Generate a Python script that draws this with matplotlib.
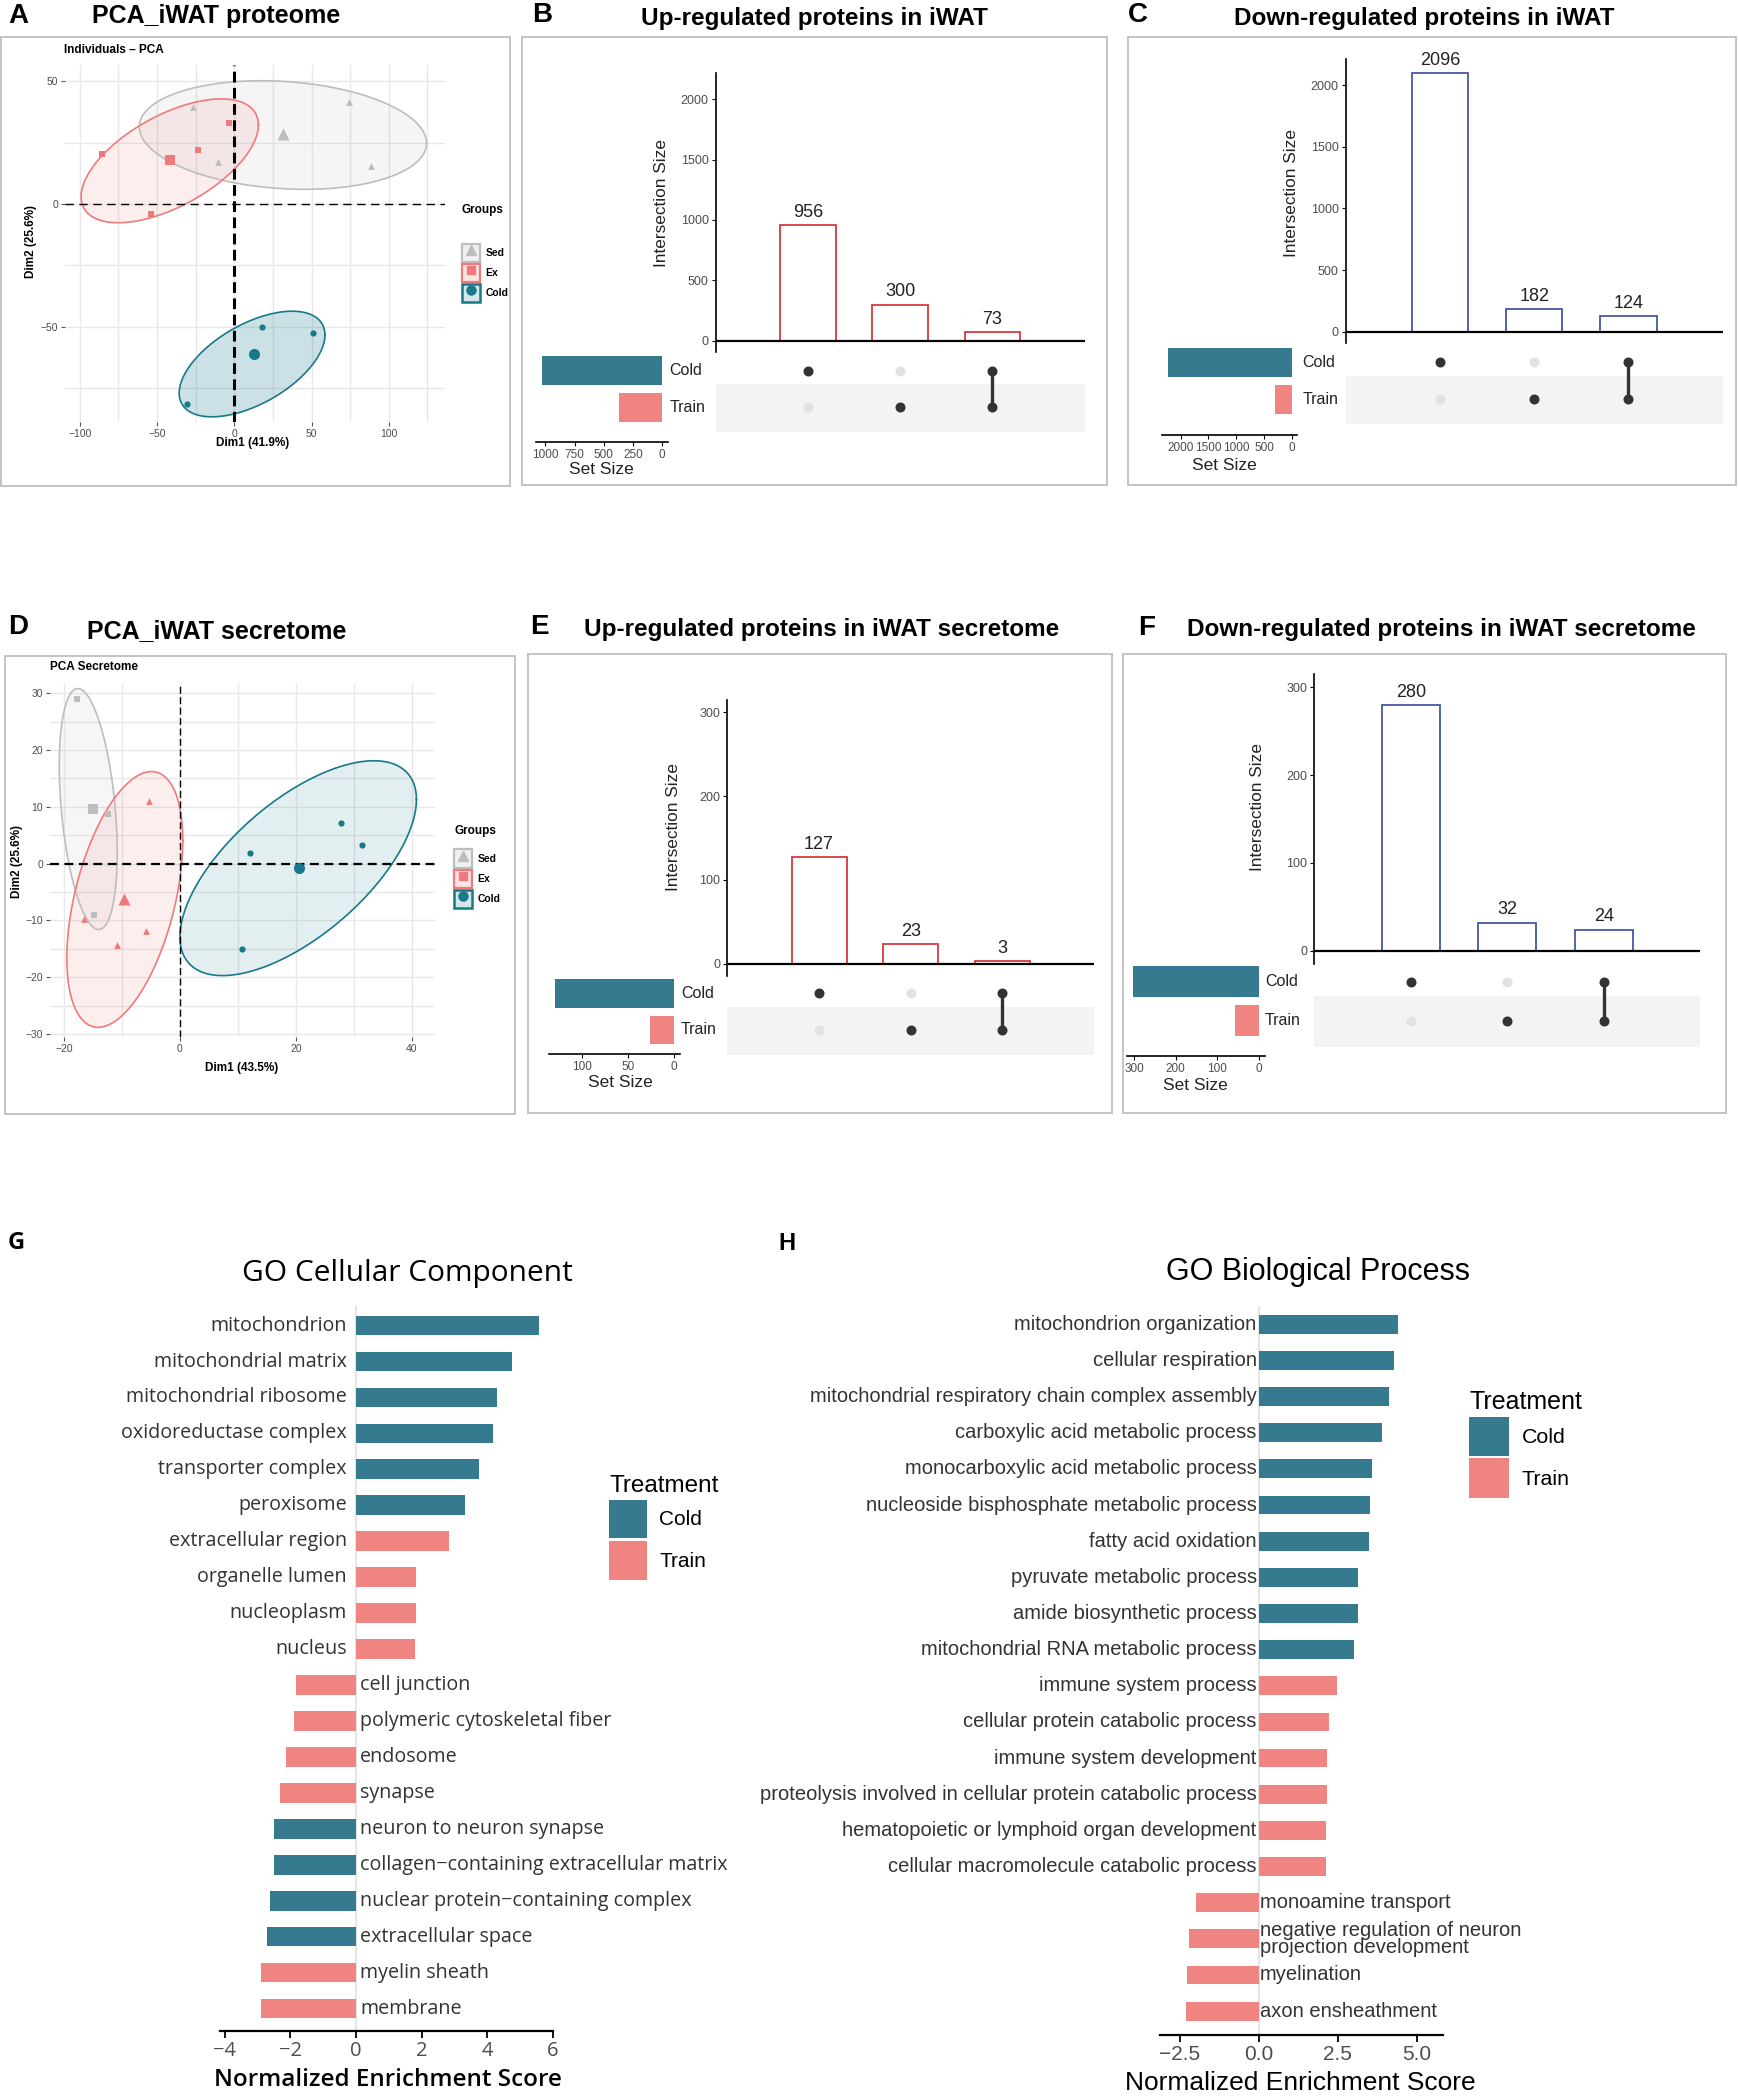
import numpy as np
import matplotlib
matplotlib.use("Agg")
import matplotlib.pyplot as plt
from matplotlib.patches import Rectangle, Patch
from matplotlib.lines import Line2D
from matplotlib.legend_handler import HandlerTuple

# ---------------- data ----------------
# A  PCA iWAT proteome (Dim1, Dim2)
pa_sed_x = [-26.9, 74.4, 88.3, -10.4]
pa_sed_y = [39.4, 41.7, 15.6, 17.2]
pa_ex_x = [-85.8, -23.3, -3.2, -54.1]
pa_ex_y = [20.4, 21.9, 32.9, -4.2]
pa_cold_x = [17.7, 51.1, -30.4]
pa_cold_y = [-50.0, -52.3, -81.2]
# ellipses: centre x, centre y, half width, half height, tilt
pa_sed_ell = [31.5, 28.1, 93.0, 22.1, -0.15]
pa_ex_ell = [-41.8, 17.6, 57.4, 25.2, 0.58]
pa_cold_ell = [11.5, -65.1, 47.2, 21.5, 0.55]

# D  PCA iWAT secretome
pd_sed_x = [-17.8, -12.4, -14.8]
pd_sed_y = [29.0, 8.7, -9.0]
pd_ex_x = [-5.4, -16.5, -10.8, -5.9]
pd_ex_y = [11.1, -9.8, -14.3, -11.9]
pd_cold_x = [12.1, 27.8, 31.4, 10.8]
pd_cold_y = [1.9, 7.1, 3.3, -15.1]
pd_sed_ell = [-15.8, 9.6, 5.0, 21.2, -0.36]
pd_ex_ell = [-9.5, -6.3, 10.0, 22.5, 0.46]
pd_cold_ell = [20.4, -0.8, 20.4, 18.9, 0.64]

# B, C, E, F  upset intersections
sets = ["Cold", "Train"]
combos = [["Cold"], ["Train"], ["Cold", "Train"]]
up_iwat = [956, 300, 73]
down_iwat = [2096, 182, 124]
up_sec = [127, 23, 3]
down_sec = [280, 32, 24]

# G  GO cellular component
cc_terms = ["mitochondrion", "mitochondrial matrix", "mitochondrial ribosome",
            "oxidoreductase complex", "transporter complex", "peroxisome",
            "extracellular region", "organelle lumen", "nucleoplasm", "nucleus",
            "cell junction", "polymeric cytoskeletal fiber", "endosome", "synapse",
            "neuron to neuron synapse", "collagen\u2212containing extracellular matrix",
            "nuclear protein\u2212containing complex", "extracellular space",
            "myelin sheath", "membrane"]
cc_nes = [5.56, 4.76, 4.30, 4.17, 3.73, 3.32, 2.82, 1.84, 1.84, 1.80,
          -1.84, -1.89, -2.13, -2.32, -2.50, -2.51, -2.61, -2.73, -2.89, -2.89]
cc_grp = ["Cold"] * 6 + ["Train"] * 8 + ["Cold"] * 4 + ["Train"] * 2

# H  GO biological process
bp_terms = ["mitochondrion organization", "cellular respiration",
            "mitochondrial respiratory chain complex assembly",
            "carboxylic acid metabolic process", "monocarboxylic acid metabolic process",
            "nucleoside bisphosphate metabolic process", "fatty acid oxidation",
            "pyruvate metabolic process", "amide biosynthetic process",
            "mitochondrial RNA metabolic process", "immune system process",
            "cellular protein catabolic process", "immune system development",
            "proteolysis involved in cellular protein catabolic process",
            "hematopoietic or lymphoid organ development",
            "cellular macromolecule catabolic process", "monoamine transport",
            "negative regulation of neuron\nprojection development", "myelination",
            "axon ensheathment"]
bp_nes = [4.42, 4.28, 4.12, 3.90, 3.60, 3.54, 3.48, 3.16, 3.16, 3.02,
          2.48, 2.24, 2.16, 2.16, 2.14, 2.14, -2.00, -2.20, -2.26, -2.30]
bp_grp = ["Cold"] * 10 + ["Train"] * 10

# ---------------- style ----------------
teal = "#357A8F"
coral = "#F08480"
sed_c = "#BDBDBD"
ex_c = "#F07A7B"
cold_c = "#17798A"

W, H = 1738, 2100
plt.rcParams['font.family'] = ['Liberation Sans', 'DejaVu Sans']
fig = plt.figure(figsize=(W / 100, H / 100), dpi=100)


def px_axes(x0, y0, x1, y1):
    return fig.add_axes([x0 / W, 1 - y1 / H, (x1 - x0) / W, (y1 - y0) / H])


def ftext(x, y, s, **kw):
    return fig.text(x / W, 1 - y / H, s, **kw)


def frame(x0, y0, x1, y1):
    fig.add_artist(Rectangle((x0 / W, 1 - y1 / H), (x1 - x0) / W, (y1 - y0) / H,
                             transform=fig.transFigure, fill=False, ec="#C4C4C4", lw=1.4))


def ellipse_xy(p):
    cx, cy, a, b, rho = p
    t = np.linspace(0, 2 * np.pi, 240)
    return cx + a * np.cos(t), cy + b * (rho * np.cos(t) + np.sqrt(1 - rho ** 2) * np.sin(t))


def pca_panel(box, xlim, ylim, xmaj, xmin, ymaj, ymin, groups, vline, hline):
    ax = px_axes(*box)
    ax.set_xlim(*xlim)
    ax.set_ylim(*ylim)
    for s in ax.spines.values():
        s.set_visible(False)
    ax.set_xticks(xmaj)
    ax.set_xticks(xmin, minor=True)
    ax.set_yticks(ymaj)
    ax.set_yticks(ymin, minor=True)
    ax.grid(which="both", color="#E8E8E8", lw=1.0)
    ax.set_axisbelow(True)
    ax.tick_params(which="major", length=3, color="#555555", labelsize=7.5,
                   labelcolor="#4D4D4D", pad=2)
    ax.tick_params(which="minor", length=0)
    for xs, ys, ell, col, fa, mk in groups:
        ex, ey = ellipse_xy(ell)
        ax.fill(ex, ey, color=col, alpha=fa, lw=0, zorder=1)
        ax.plot(ex, ey, color=col, lw=1.2, zorder=2)
    ax.axvline(0, color="black", lw=vline[0], ls=(0, vline[1]), zorder=3)
    ax.axhline(0, color="black", lw=hline[0], ls=(0, hline[1]), zorder=3)
    for xs, ys, ell, col, fa, mk in groups:
        small = {"^": 24, "s": 16, "o": 20}[mk]
        ax.scatter(xs, ys, marker=mk, s=small, color=col, lw=0, zorder=4)
        ax.scatter(np.mean(xs), np.mean(ys), marker=mk, s=small * 3.2, color=col, lw=0, zorder=4)
    return ax


def pca_legend(x, y, sep):
    hs = [(Patch(facecolor="#F0F0F0", edgecolor=sed_c, lw=1.6),
           Line2D([], [], marker="^", color=sed_c, ls="", markersize=7)),
          (Patch(facecolor="#FCE4E4", edgecolor=ex_c, lw=1.6),
           Line2D([], [], marker="s", color=ex_c, ls="", markersize=6)),
          (Patch(facecolor="#D4E6EA", edgecolor=cold_c, lw=1.8),
           Line2D([], [], marker="o", color=cold_c, ls="", markersize=6.5))]
    lg = fig.legend(hs, ["Sed", "Ex", "Cold"], handler_map={tuple: HandlerTuple(ndivide=1)},
                    loc="upper left", bbox_to_anchor=(x / W, 1 - y / H), frameon=False,
                    title="Groups", alignment="left", borderpad=0, borderaxespad=0,
                    handlelength=1.75, handleheight=2.3, labelspacing=0.2, handletextpad=0.5,
                    prop={"size": 7.5, "weight": "bold"},
                    title_fontproperties={"size": 8.5, "weight": "bold"})
    lg._legend_box.sep = sep


# ---------------- A ----------------
frame(1, 37, 510, 486)
ftext(8, 16, "A", size=20, weight="bold", va="center")
ftext(216, 16, "PCA_iWAT proteome", size=18, weight="bold", ha="center", va="center")
pca_panel((65, 65, 445, 422), (-109.6, 136.4), (-88.7, 56.6),
          [-100, -50, 0, 50, 100], [-75, -25, 25, 75, 125], [-50, 0, 50], [-75, -25, 25],
          [(pa_sed_x, pa_sed_y, pa_sed_ell, sed_c, 0.15, "^"),
           (pa_ex_x, pa_ex_y, pa_ex_ell, ex_c, 0.12, "s"),
           (pa_cold_x, pa_cold_y, pa_cold_ell, cold_c, 0.22, "o")],
          (2.2, (3.5, 1.8)), (1.0, (6, 4)))
ftext(64, 50, "Individuals \u2013 PCA", size=8.5, weight="bold", va="center")
ftext(253, 443, "Dim1 (41.9%)", size=8.5, weight="bold", ha="center", va="center")
ftext(31, 242, "Dim2 (25.6%)", size=8.5, weight="bold", ha="center", va="center", rotation=90)
pca_legend(462, 204, 20)

# ---------------- D ----------------
frame(5, 656, 515, 1114)
ftext(8, 627, "D", size=20, weight="bold", va="center")
ftext(217, 631, "PCA_iWAT secretome", size=18, weight="bold", ha="center", va="center")
pca_panel((50, 684, 435, 1037), (-22.4, 44.0), (-30.5, 31.6),
          [-20, 0, 20, 40], [-10, 10, 30], [-30, -20, -10, 0, 10, 20, 30],
          [-25, -15, -5, 5, 15, 25],
          [(pd_sed_x, pd_sed_y, pd_sed_ell, sed_c, 0.12, "s"),
           (pd_ex_x, pd_ex_y, pd_ex_ell, ex_c, 0.12, "^"),
           (pd_cold_x, pd_cold_y, pd_cold_ell, cold_c, 0.12, "o")],
          (1.0, (5, 2.5)), (1.6, (4, 2.5)))
ftext(50, 667, "PCA Secretome", size=8.5, weight="bold", va="center")
ftext(242, 1068, "Dim1 (43.5%)", size=8.5, weight="bold", ha="center", va="center")
ftext(17, 862, "Dim2 (25.6%)", size=8.5, weight="bold", ha="center", va="center", rotation=90)
pca_legend(454, 825, 9)


# ---------------- upset panels ----------------
def upset_panel(counts, edge, L):
    bx = px_axes(L["bx0"], L["btop"], L["bx1"], L["bbot"])
    xs = np.arange(len(counts))
    bx.bar(xs, counts, width=0.6, facecolor="white", edgecolor=edge, lw=1.3, zorder=2)
    bx.set_xlim(-1, 3)
    bx.set_ylim(*L["ylim"])
    bx.axhline(0, color="black", lw=1.6, zorder=3)
    for x, v in zip(xs, counts):
        bx.annotate(str(v), (x, v), xytext=(0, 3), textcoords="offset points",
                    ha="center", va="bottom", fontsize=13, color="#222222")
    for k in ["top", "right", "bottom"]:
        bx.spines[k].set_visible(False)
    bx.spines["left"].set_linewidth(1.2)
    bx.set_xticks([])
    bx.set_yticks(L["yticks"])
    bx.tick_params(axis="y", length=3, labelsize=9, labelcolor="#4D4D4D", pad=2)
    bx.patch.set_alpha(0)

    yc, yt = L["rows"]
    s = yt - yc
    row_y = {"Cold": 1, "Train": 0}
    mx = px_axes(L["bx0"], yc - 0.6 * s, L["bx1"], yt + 0.72 * s)
    mx.set_xlim(-1, 3)
    mx.set_ylim(-0.72, 1.6)
    mx.axis("off")
    mx.axhspan(-0.67, 0.63, color="#F3F3F3", lw=0, zorder=0)
    for i, combo in enumerate(combos):
        for nm in sets:
            on = nm in combo
            mx.scatter(i, row_y[nm], s=52, color="#333333" if on else "#E2E2E2", lw=0, zorder=3)
        if len(combo) > 1:
            mx.plot([i] * len(combo), [row_y[c] for c in combo], color="#333333", lw=2.4, zorder=2)

    sizes = [sum(v for v, c in zip(counts, combos) if nm in c) for nm in sets]
    sbot = -(L["sline"] - yt) / s
    sx = px_axes(L["sx0"], yc - 0.6 * s, L["sx1"], L["sline"])
    sx.barh([row_y[n] for n in sets], sizes, height=0.78, color=[teal, coral])
    sx.set_xlim(*L["sxlim"])
    sx.set_ylim(sbot, 1.6)
    for k in ["top", "right", "left"]:
        sx.spines[k].set_visible(False)
    sx.spines["bottom"].set_linewidth(1.2)
    sx.set_yticks([])
    sx.set_xticks(L["sticks"])
    sx.tick_params(axis="x", length=3, labelsize=8.5, labelcolor="#4D4D4D", pad=2)
    sx.patch.set_alpha(0)
    for nm in sets:
        ftext(L["labx"], yc if nm == "Cold" else yt, nm, size=11.5, va="center", color="#222222")
    ftext(L["ylab"][0], L["ylab"][1], "Intersection Size", size=12.4, rotation=90,
          ha="center", va="center", color="#222222")
    ftext(L["slab"][0], L["slab"][1], "Set Size", size=12.5, ha="center", va="center",
          color="#222222")
    ftext(L["title"][0], L["title"][1], L["title"][2], size=17.5, weight="bold",
          ha="center", va="center")
    ftext(L["letter"][0], L["letter"][1], L["letter"][2], size=20, weight="bold",
          ha="left", va="center")
    frame(*L["frame"])


upset_panel(up_iwat, "#D63A3F", dict(
    bx0=715.6, bx1=1084.6, btop=73.3, bbot=351.6, ylim=(-90, 2215),
    yticks=[0, 500, 1000, 1500, 2000], rows=(370.7, 407.3),
    sx0=536.3, sx1=667.9, sxlim=(1077, -48.8), sticks=[0, 250, 500, 750, 1000],
    sline=441.7, labx=669.4, ylab=(662, 203), slab=(601, 470),
    title=(814.5, 18, "Up-regulated proteins in iWAT"), letter=(532, 15, "B"),
    frame=(522, 37.3, 1107, 485)))

upset_panel(down_iwat, "#4556A5", dict(
    bx0=1345.7, bx1=1722.7, btop=58.6, bbot=342.8, ylim=(-90, 2215),
    yticks=[0, 500, 1000, 1500, 2000], rows=(362.3, 399.3),
    sx0=1162, sx1=1297, sxlim=(2334, -93), sticks=[0, 500, 1000, 1500, 2000],
    sline=435, labx=1302.7, ylab=(1291, 193), slab=(1224.6, 466),
    title=(1424, 18, "Down-regulated proteins in iWAT"), letter=(1128, 15, "C"),
    frame=(1128, 37.3, 1736, 485)))

upset_panel(up_sec, "#D63A3F", dict(
    bx0=727.3, bx1=1094.2, btop=699.8, bbot=976.3, ylim=(-15, 315),
    yticks=[0, 100, 200, 300], rows=(993.3, 1030),
    sx0=548.6, sx1=679.8, sxlim=(136.5, -6), sticks=[0, 50, 100],
    sline=1054, labx=681, ylab=(674, 826.7), slab=(620, 1082.3),
    title=(821.8, 629.3, "Up-regulated proteins in iWAT secretome"), letter=(530, 627, "E"),
    frame=(527.7, 654.3, 1112, 1113.3)))

upset_panel(down_sec, "#4556A5", dict(
    bx0=1314.3, bx1=1700.2, btop=674.2, bbot=963.9, ylim=(-15, 315),
    yticks=[0, 100, 200, 300], rows=(981.7, 1020.7),
    sx0=1127, sx1=1265, sxlim=(318, -15.7), sticks=[0, 100, 200, 300],
    sline=1056, labx=1265, ylab=(1258, 806.7), slab=(1194.9, 1086),
    title=(1441, 629.3, "Down-regulated proteins in iWAT secretome"), letter=(1138, 628, "F"),
    frame=(1123, 654.3, 1726, 1113.3)))


# ---------------- GO panels ----------------
def go_panel(box, xlim, ylim, terms, nes, grp, ticks, ticklabels, fam, lsize, tsize,
             off_pos, off_neg, bar_h):
    ax = px_axes(*box)
    y = np.arange(len(terms))
    cols = [teal if g == "Cold" else coral for g in grp]
    ax.barh(y, nes, height=bar_h, color=cols, zorder=2)
    ax.axvline(0, color="#E6E6E6", lw=1.6, zorder=1)
    ax.set_xlim(*xlim)
    ax.set_ylim(*ylim)
    for yi, t, v in zip(y, terms, nes):
        if v > 0:
            ax.annotate(t, (0, yi), xytext=(-off_pos, 0), textcoords="offset points",
                        ha="right", va="center", family=fam, size=lsize, color="#333333")
        else:
            ax.annotate(t, (0, yi), xytext=(off_neg, 0), textcoords="offset points",
                        ha="left", va="center", family=fam, size=lsize, color="#333333",
                        linespacing=0.9)
    for k in ["top", "right", "left"]:
        ax.spines[k].set_visible(False)
    ax.spines["bottom"].set_linewidth(1.6)
    ax.set_yticks([])
    ax.set_xticks(ticks)
    ax.set_xticklabels(ticklabels, family=fam, size=tsize, color="#4D4D4D")
    ax.tick_params(axis="x", length=5, width=1.3, pad=2)
    ax.patch.set_alpha(0)
    return ax


def go_legend(ax, x, y, tsize, lsize, hl, hh):
    hs = [Patch(facecolor=teal), Patch(facecolor=coral)]
    ax.legend(hs, ["Cold", "Train"], loc="upper left", bbox_to_anchor=(x / W, 1 - y / H),
              bbox_transform=fig.transFigure, frameon=False, title="Treatment",
              alignment="left", borderpad=0, borderaxespad=0, handlelength=hl,
              handleheight=hh, labelspacing=0.12, handletextpad=0.6,
              prop={"size": lsize}, title_fontproperties={"size": tsize})


g_fam = ["Open Sans", "DejaVu Sans"]
ftext(8, 1243, "G", size=17, weight="bold", va="center", family=g_fam)
ftext(407, 1273, "GO Cellular Component", size=21.5, ha="center", va="center", family=g_fam)
gax = go_panel((219.6, 1305, 553, 2031), (-4.16, 6.0), (19.626, -0.573),
               cc_terms, cc_nes, cc_grp, [-4, -2, 0, 2, 4, 6],
               ["\u22124", "\u22122", "0", "2", "4", "6"], g_fam, 14.2, 14.5, 6.5, 3, 0.55)
ftext(388, 2080, "Normalized Enrichment Score", size=17.5, weight="semibold",
      ha="center", va="center", family=g_fam)
go_legend(gax, 609, 1475, 17.5, 15, 1.82, 2.5)

h_fam = ["Liberation Sans", "DejaVu Sans"]
ftext(778, 1243, "H", size=17, weight="bold", va="center")
ftext(1318, 1272, "GO Biological Process", size=22, ha="center", va="center")
hax = go_panel((1159.6, 1305.5, 1443.4, 2035), (-3.14, 5.85), (19.66, -0.52),
               bp_terms, bp_nes, bp_grp, [-2.5, 0, 2.5, 5.0],
               ["\u22122.5", "0.0", "2.5", "5.0"], h_fam, 14.5, 15, 1.5, 1.0, 0.52)
ftext(1300, 2083, "Normalized Enrichment Score", size=19, ha="center", va="center")
go_legend(hax, 1469, 1390, 18, 15.4, 1.85, 2.45)

fig.savefig("out.png", dpi=100)
